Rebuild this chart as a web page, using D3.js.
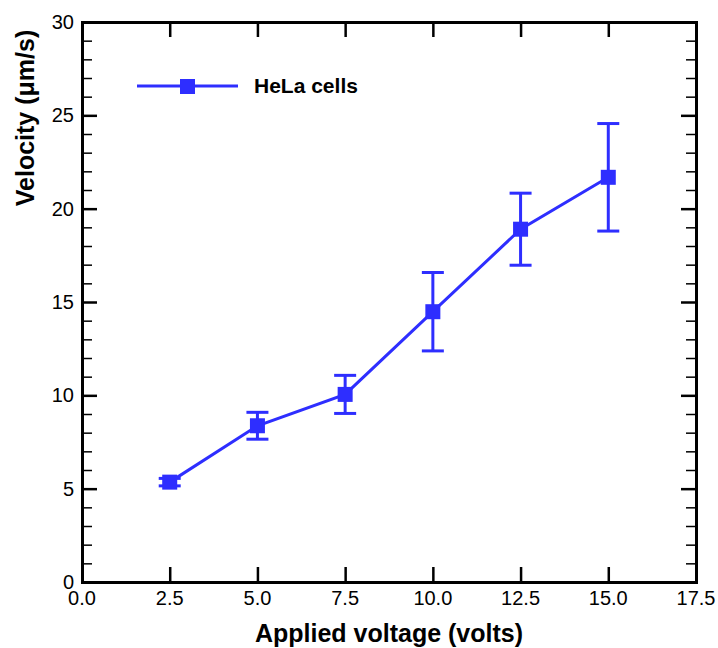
<!DOCTYPE html>
<html lang="en">
  <head>
    <meta charset="utf-8">
    <title>HeLa cell velocity</title>
    <script type="text/javascript" src="https://cdn.jsdelivr.net/npm/d3@7"></script>
    <style>
      body { margin: 0; background: #fff; }
      text { font-family: "Liberation Sans", Arial, sans-serif; }
    </style>
  </head>
  <body>
    <script type="text/javascript">
    // data
    var voltage = [2.5, 5.0, 7.5, 10.0, 12.5, 15.0];
    var velocity = [5.35, 8.37, 10.05, 14.48, 18.9, 21.68];
    var errors = [0.2, 0.72, 1.02, 2.1, 1.93, 2.88];
    var xTicks = [0, 2.5, 5, 7.5, 10, 12.5, 15, 17.5];
    var yTicks = [0, 5, 10, 15, 20, 25, 30];
    var seriesName = "HeLa cells";

    var w = 718, h = 648;
    var padL = 82, padR = 696, padT = 22, padB = 582;
    var blue = "#2e2eff";

    var svg = d3.select("body")
                .append("svg")
                .attr("width", w)
                .attr("height", h);

    var xScale = d3.scaleLinear().domain([0, 17.5]).range([padL, padR]);
    var yScale = d3.scaleLinear().domain([0, 30]).range([padB, padT]);

    var minorY = d3.range(0, 31, 1).filter(function(v) { return v % 5 != 0; });

    // ticks pointing inward on all four sides
    var bottomAxis = d3.axisTop(xScale).tickValues(xTicks).tickSizeOuter(0).tickSize(15).tickFormat("");
    var topAxis = d3.axisBottom(xScale).tickValues(xTicks).tickSizeOuter(0).tickSize(15).tickFormat("");
    var leftAxis = d3.axisRight(yScale).tickValues(yTicks).tickSizeOuter(0).tickSize(15).tickFormat("");
    var rightAxis = d3.axisLeft(yScale).tickValues(yTicks).tickSizeOuter(0).tickSize(15).tickFormat("");

    var axes = [
      [bottomAxis, "translate(0," + padB + ")"],
      [topAxis, "translate(0," + padT + ")"],
      [leftAxis, "translate(" + padL + ",0)"],
      [rightAxis, "translate(" + padR + ",0)"]
    ];
    axes.forEach(function(a) {
      var g = svg.append("g").attr("transform", a[1]).call(a[0]);
      g.select(".domain").attr("stroke", "#000").attr("stroke-width", 3);
      g.selectAll(".tick line").attr("stroke", "#000").attr("stroke-width", 2.5);
    });

    // minor y ticks
    svg.append("g").attr("transform", "translate(" + padL + ",0)")
       .call(d3.axisRight(yScale).tickValues(minorY).tickSize(10).tickFormat(""))
       .call(function(g) { g.select(".domain").remove(); })
       .selectAll(".tick line").attr("stroke", "#000").attr("stroke-width", 1.5);
    svg.append("g").attr("transform", "translate(" + padR + ",0)")
       .call(d3.axisLeft(yScale).tickValues(minorY).tickSize(10).tickFormat(""))
       .call(function(g) { g.select(".domain").remove(); })
       .selectAll(".tick line").attr("stroke", "#000").attr("stroke-width", 1.5);

    // tick labels
    svg.selectAll(".xlab")
       .data(xTicks)
       .enter()
       .append("text")
       .attr("x", function(d) { return xScale(d); })
       .attr("y", 605)
       .attr("text-anchor", "middle")
       .attr("font-size", 20)
       .text(function(d) { return d3.format(".1f")(d); });

    svg.selectAll(".ylab")
       .data(yTicks)
       .enter()
       .append("text")
       .attr("x", 74)
       .attr("y", function(d) { return yScale(d) + 7; })
       .attr("text-anchor", "end")
       .attr("font-size", 20)
       .text(function(d) { return d; });

    // axis titles
    svg.append("text")
       .attr("x", 389)
       .attr("y", 642)
       .attr("text-anchor", "middle")
       .attr("font-size", 25)
       .attr("font-weight", "bold")
       .text("Applied voltage (volts)");

    svg.append("text")
       .attr("transform", "translate(34,118) rotate(-90)")
       .attr("text-anchor", "middle")
       .attr("font-size", 25)
       .attr("font-weight", "bold")
       .text("Velocity (\u03bcm/s)");

    var points = voltage.map(function(v, i) {
      return { x: v, y: velocity[i], e: errors[i] };
    });

    // error bars
    var eb = svg.append("g").attr("stroke", blue).attr("stroke-width", 3);
    points.forEach(function(d) {
      var cx = xScale(d.x);
      eb.append("line")
        .attr("x1", cx).attr("x2", cx)
        .attr("y1", yScale(d.y - d.e)).attr("y2", yScale(d.y + d.e));
      [d.y - d.e, d.y + d.e].forEach(function(v) {
        eb.append("line")
          .attr("x1", cx - 11).attr("x2", cx + 11)
          .attr("y1", yScale(v)).attr("y2", yScale(v));
      });
    });

    // line
    var line = d3.line()
                 .x(function(d) { return xScale(d.x); })
                 .y(function(d) { return yScale(d.y); });
    svg.append("path")
       .datum(points)
       .attr("d", line)
       .attr("fill", "none")
       .attr("stroke", blue)
       .attr("stroke-width", 3);

    // square markers
    svg.selectAll(".pt")
       .data(points)
       .enter()
       .append("rect")
       .attr("x", function(d) { return xScale(d.x) - 7.5; })
       .attr("y", function(d) { return yScale(d.y) - 7.5; })
       .attr("width", 15)
       .attr("height", 15)
       .attr("fill", blue);

    // legend
    var lg = svg.append("g");
    lg.append("line")
      .attr("x1", 137).attr("x2", 238)
      .attr("y1", 86).attr("y2", 86)
      .attr("stroke", blue).attr("stroke-width", 3);
    lg.append("rect")
      .attr("x", 180).attr("y", 79)
      .attr("width", 15).attr("height", 15)
      .attr("fill", blue);
    lg.append("text")
      .attr("x", 254).attr("y", 93)
      .attr("font-size", 21)
      .attr("font-weight", "bold")
      .text(seriesName);
    </script>
  </body>
</html>
